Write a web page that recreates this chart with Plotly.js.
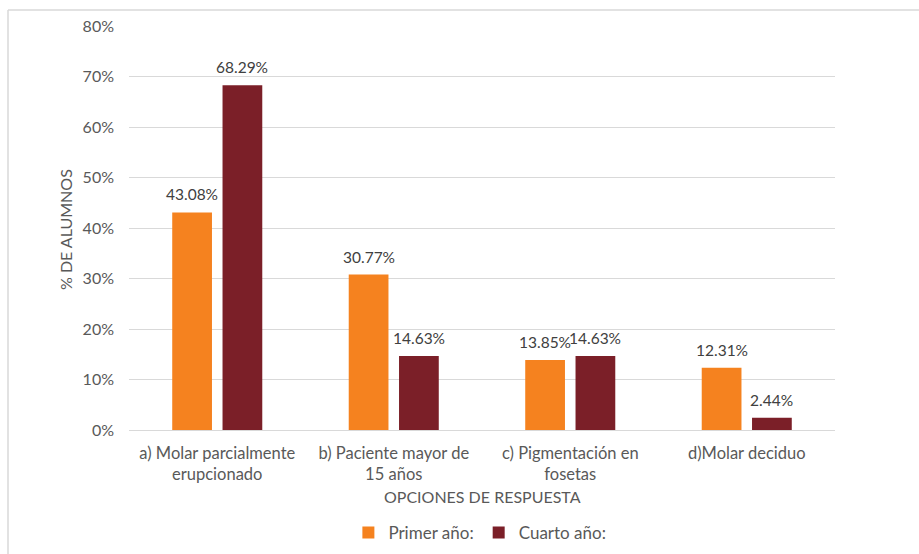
<!DOCTYPE html>
<html><head><meta charset="utf-8">
<script src="https://cdn.plot.ly/plotly-3.0.1.min.js"></script>
<style>body{margin:0;background:#fff}#c{width:919px;height:554px}</style>
</head><body><div id="c"></div>
<script>
const categories = ["a) Molar parcialmente<br>erupcionado", "b) Paciente mayor de<br>15 años", "c) Pigmentación en<br>fosetas", "d)Molar deciduo"];
const primerAno = [43.08, 30.77, 13.85, 12.31];
const cuartoAno = [68.29, 14.63, 14.63, 2.44];
const seriesNames = ["Primer año:", "Cuarto año:"];
const colors = ["#F5821F", "#7B1F28"];
const font = "Lato, 'Open Sans', sans-serif";
function tr(vals, i){
  return {type:"bar", x:categories, y:vals, name:seriesNames[i],
    marker:{color:colors[i]}, hoverinfo:"none"};
}
const plotW = 919-129-84;
const slot = (1-0.43)*(plotW/categories.length)/2;
const labelAnn = [];
[primerAno, cuartoAno].forEach((vals, s) => {
  vals.forEach((v, k) => {
    labelAnn.push({x:categories[k], y:v, xref:"x", yref:"y", text:v.toFixed(2)+"%", showarrow:false,
      xanchor:"center", yanchor:"bottom", yshift:7, xshift:(s===0?-1:1)*slot/2,
      font:{size:15.5, color:"#404040", family:font}});
  });
});
const layout = {
  width:919, height:554,
  margin:{l:129, r:84, t:26, b:124, autoexpand:false},
  barmode:"group", bargap:0.43, bargroupgap:0.21,
  font:{family:font, size:16, color:"#595959"},
  paper_bgcolor:"#fff", plot_bgcolor:"#fff",
  xaxis:{automargin:false, showline:true, linecolor:"#d9d9d9", ticks:"", tickfont:{size:16.5}, ticklabelstandoff:8},
  yaxis:{automargin:false, range:[0,80], dtick:10, ticksuffix:"%", gridcolor:"#d9d9d9", zeroline:false,
    ticklabelstandoff:14, tickfont:{size:16}},
  legend:{orientation:"h", x:0.497, xanchor:"center", y:-0.255, yanchor:"middle", font:{size:17}},
  annotations:labelAnn.concat([
    {text:"OPCIONES DE RESPUESTA", xref:"paper", yref:"paper", x:0.5, y:(430-497)/404, showarrow:false, xanchor:"center", yanchor:"middle", font:{size:16, color:"#595959"}},
    {text:"% DE ALUMNOS", xref:"paper", yref:"paper", x:(65-129)/706, y:0.495, textangle:-90, showarrow:false, xanchor:"center", yanchor:"middle", font:{size:16, color:"#595959"}}
  ]),
  shapes:[
    {type:"line", xref:"paper", yref:"paper", x0:(8-129)/706, x1:(8-129)/706, y0:1+(26-10)/404, y1:-0.4, line:{color:"#d9d9d9", width:1.5}},
    {type:"line", xref:"paper", yref:"paper", x0:(8-129)/706, x1:1.2, y0:1+(26-10)/404, y1:1+(26-10)/404, line:{color:"#d9d9d9", width:1.5}}
  ],
  showlegend:true
};
Plotly.newPlot("c", [tr(primerAno,0), tr(cuartoAno,1)], layout, {displayModeBar:false, staticPlot:true});
</script></body></html>
